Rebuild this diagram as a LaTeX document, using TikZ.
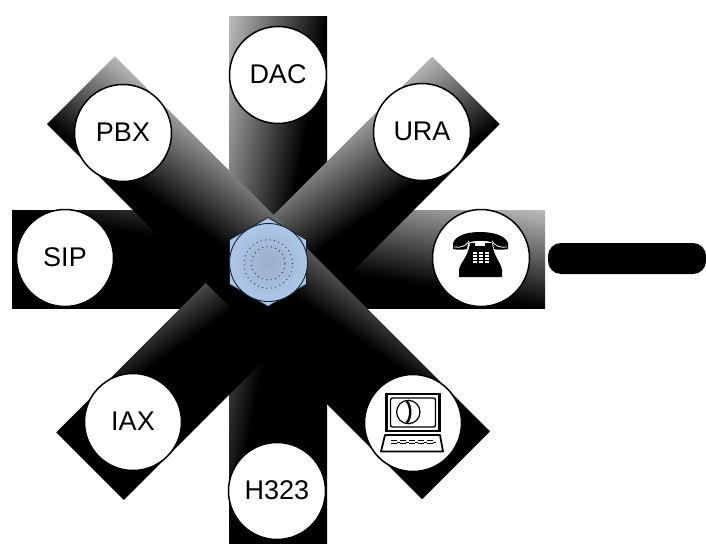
\documentclass[tikz,border=0pt]{standalone}
\usepackage{fontspec}
\setmainfont{Liberation Sans}
\usepackage{tikz}
\usetikzlibrary{shapes.geometric}

\definecolor{barlight}{HTML}{C0C0C0}
\definecolor{hubblue}{HTML}{ADC6E9}
\definecolor{hubgrey}{HTML}{9CAEC8}
\definecolor{hubline}{HTML}{16202C}
\pgfdeclarehorizontalshading{barfade}{1200bp}{color(0bp)=(black); color(98bp)=(black); color(196bp)=(barlight)}

\tikzset{
  portnode/.style={circle,draw=black,line width=1.5pt,fill=white,minimum size=97pt,inner sep=0pt,text depth=2.5pt,font=\fontsize{27}{30}\selectfont},
  dotring/.style={draw=hubline,line width=0.8pt,dash pattern=on 0.9pt off 3.6pt}
}

\begin{document}
\begin{tikzpicture}[x=1pt,y=-1pt]
  \useasboundingbox (0,0) rectangle (706,543);
  % the four bars, last one on top
  \foreach \bname/\cx/\cy/\len/\wid/\ang/\shang in {hbar/278.5/259/533/98/0/79.6, vbar/278/280/526/98/90/79.4, ubar/278/278.25/531.4/95.5/45/79.8, pbar/268.5/277.75/530.6/96/-45/100.3} {
    \begin{scope}[transform canvas={shift={(\cx,\cy)},rotate=\ang}]
      \clip (-\len/2,-\wid/2) rectangle (\len/2,\wid/2);
      \node[inner sep=0pt,rotate=\shang] (\bname) at (0,0) {\pgfuseshading{barfade}};
    \end{scope}
  }
  % hub
  \node (hub) at (268,262) [regular polygon,regular polygon sides=6,shape border rotate=30,minimum size=89pt,inner sep=0pt,draw=hubline,line width=0.9pt,fill=hubblue] {};
  \node (hubdisc) at (268.5,262.5) [circle,minimum size=78pt,inner sep=0pt,draw=hubline,line width=0.9pt,inner color=hubgrey,outer color=hubblue] {};
  \node (ringout) at (268.3,264) [circle,minimum size=48.6pt,inner sep=0pt,dotring] {};
  \node (ringin) at (268.3,263.3) [circle,minimum size=33.4pt,inner sep=0pt,dotring] {};
  % ports
  \foreach \pname/\px/\py/\ptext in {dac/278/75/DAC, ura/422/132/URA, pbx/123/133/PBX, sip/65/258/SIP, iax/133/422/IAX, hthree/277/491/H323, phone/481/258/{}, laptop/413/423/{}} {
    \node[portnode] (\pname) at (\px,\py) {\ptext};
  }
  % black bar on the right
  \node (trunk) at (627,258.5) [rectangle,rounded corners=13pt,fill=black,minimum width=158pt,minimum height=31pt,inner sep=0pt] {};
  % telephone
  \fill[black] (453,249) -- (453,243) .. controls (456,235) and (468,232) .. (480,232) .. controls (492,232) and (505,235) .. (508,243) -- (508,249) .. controls (503,250) and (498,250) .. (494,249) -- (493,243) .. controls (488,240) and (473,240) .. (468,243) -- (467,249) .. controls (462,250) and (458,250) .. cycle;
  \fill[black] (459,277) -- (459,270) .. controls (460,262) and (468,258) .. (470,243) -- (475,243) -- (475,246) -- (485,246) -- (485,243) -- (492,243) .. controls (494,258) and (501,262) .. (502,270) -- (502,277) -- cycle;
  \draw[white,line width=0.8pt] (454,247) .. controls (461,248) and (466,246) .. (469,241);
  \draw[white,line width=0.8pt] (507,247) .. controls (500,248) and (495,246) .. (492,241);
  \foreach \kx in {0, ..., 2} {
    \foreach \ky in {0, ..., 3} {
      \fill[white] (473+\kx*6,251.5+\ky*3.2) rectangle (476.6+\kx*6,253.7+\ky*3.2);
    }
  }
  % computer with a phone on its screen
  \draw[line width=2.4pt] (386.5,394) rectangle (439.5,431);
  \draw[line width=1.4pt,rounded corners=2pt] (390.5,398) rectangle (435.5,427);
  \draw[line width=1.2pt] (408.3,412) circle (11.7);
  \draw[line width=2.4pt] (406.5,401) .. controls (411.5,406) and (411.5,418) .. (406.5,423);
  \draw[line width=1.8pt,line join=round] (385,435) -- (440,435) -- (443,451.5) -- (381,451.5) -- cycle;
  \foreach \kx in {0, ..., 4} {
    \draw[line width=1pt] (391+\kx*9,440.5) -- ++(5.5,0) (391+\kx*9,443.5) -- ++(5.5,0);
    \draw[line width=1pt] (396.5+\kx*9,442) -- ++(3.5,0);
  }
\end{tikzpicture}
\end{document}
